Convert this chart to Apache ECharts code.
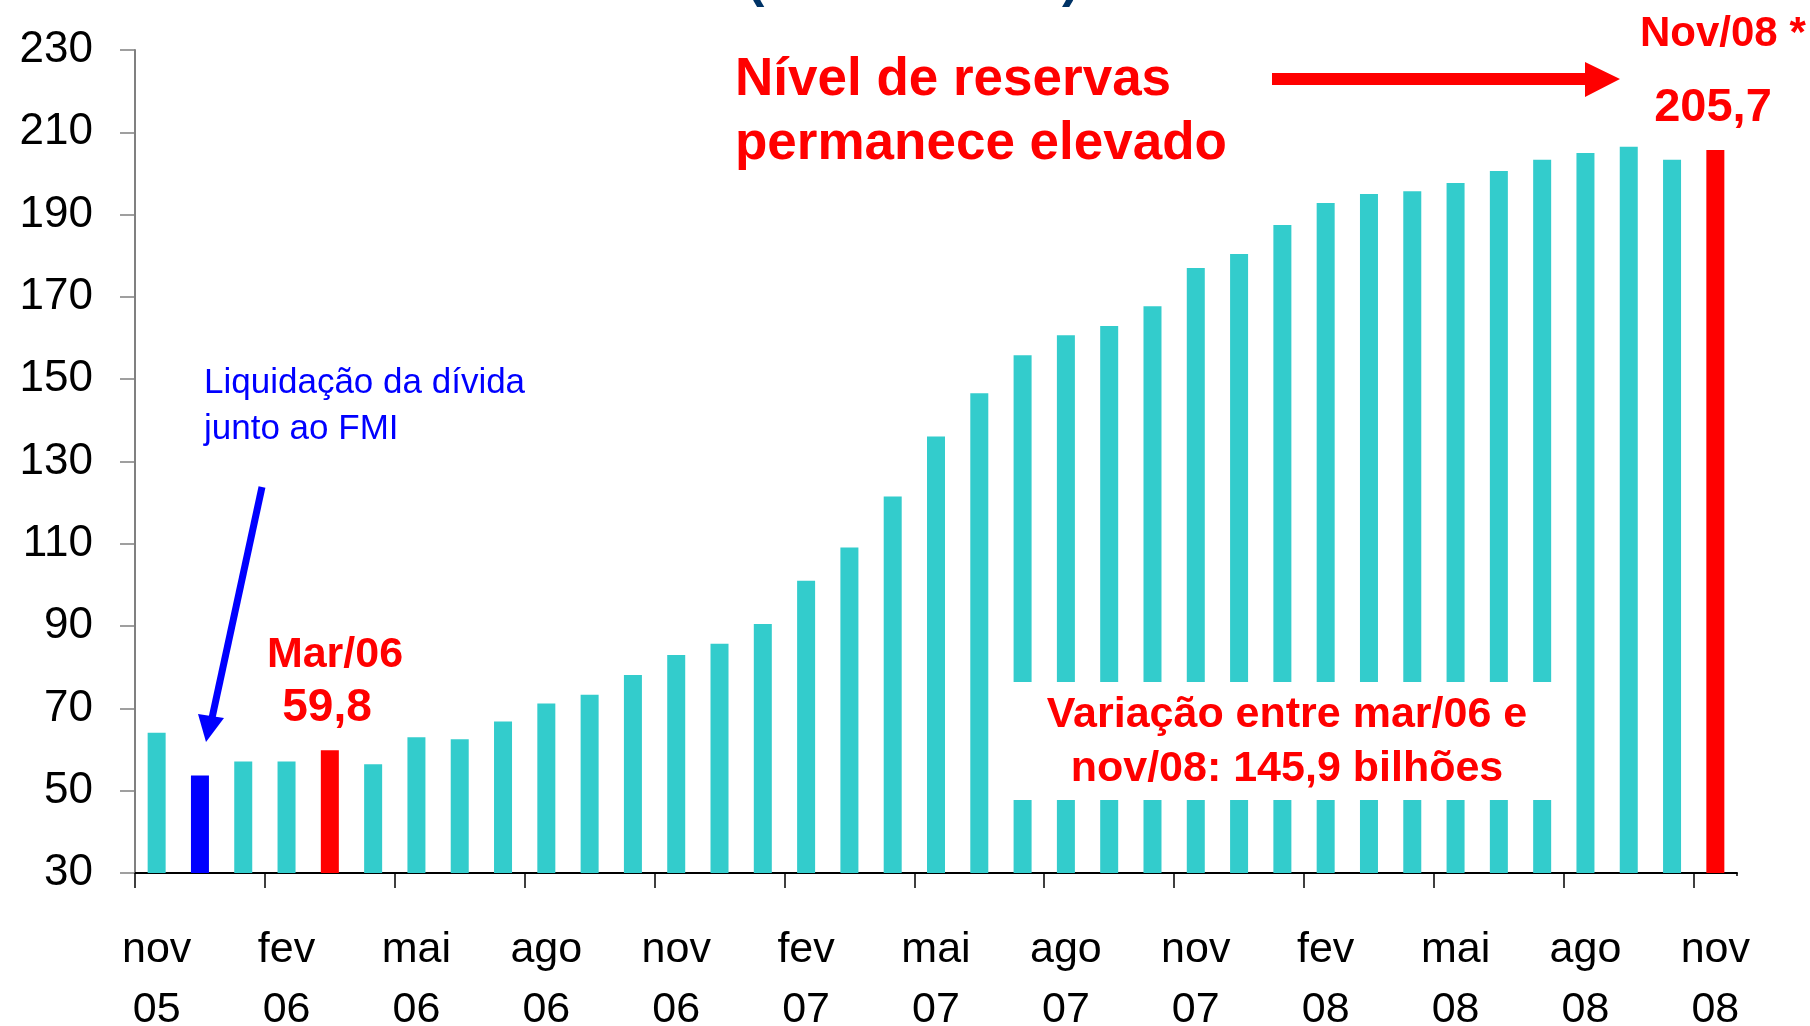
<!DOCTYPE html>
<html>
<head>
<meta charset="utf-8">
<script src="https://cdn.jsdelivr.net/npm/echarts@6/dist/echarts.min.js"></script>
<style>
html, body { margin: 0; padding: 0; background: #fff; }
#grafico { width: 1810px; height: 1026px; }
</style>
</head>
<body>
<div id="grafico"></div>
<script>
var meses = ['nov/05', 'dez/05', 'jan/06', 'fev/06', 'mar/06', 'abr/06', 'mai/06', 'jun/06', 'jul/06', 'ago/06', 'set/06', 'out/06',
    'nov/06', 'dez/06', 'jan/07', 'fev/07', 'mar/07', 'abr/07', 'mai/07', 'jun/07', 'jul/07', 'ago/07', 'set/07', 'out/07',
    'nov/07', 'dez/07', 'jan/08', 'fev/08', 'mar/08', 'abr/08', 'mai/08', 'jun/08', 'jul/08', 'ago/08', 'set/08', 'out/08', 'nov/08'];

// reservas internacionais, US$ bilhões
var reservas = [64.1, 53.7, 57.1, 57.1, 59.8, 56.4, 63.0, 62.5, 66.8, 71.2, 73.3, 78.1,
    83.0, 85.7, 90.5, 101.0, 109.1, 121.5, 136.1, 146.6, 155.8, 160.7, 162.9, 167.7,
    177.0, 180.4, 187.5, 192.8, 195.0, 195.7, 197.7, 200.6, 203.3, 205.0, 206.5, 203.3, 205.7];

var yMin = 30, yMax = 230, yPasso = 20;

// barras em destaque (indice -> cor)
var destaque = { 1: '#0000FF', 4: '#FF0000', 36: '#FF0000' };

var fonte = "'Liberation Sans', Arial, Helvetica, sans-serif";

var grafico = echarts.init(document.getElementById('grafico'));

function texto(x, y, txt, size, cor, bold, align, lh) {
    return {
        type: 'text', x: x, y: y, z: 100,
        style: {
            text: txt, fill: cor,
            fontSize: size, fontFamily: fonte, fontWeight: bold ? 'bold' : 'normal',
            align: align || 'left', textAlign: align || 'left',
            verticalAlign: 'middle', textVerticalAlign: 'middle',
            lineHeight: lh || size
        }
    };
}

option = {
    backgroundColor: '#fff',
    animation: false,
    grid: { left: 135, right: 73, top: 50, bottom: 153, containLabel: false, outerBoundsMode: 'none' },
    xAxis: {
        type: 'category',
        data: meses,
        boundaryGap: true,
        axisLine: { lineStyle: { color: '#000', width: 2 } },
        axisTick: { show: true, interval: 2, length: 15, lineStyle: { color: '#000', width: 1.5 } },
        axisLabel: {
            interval: 2, margin: 47,
            fontSize: 43, fontFamily: fonte, color: '#000', lineHeight: 60,
            formatter: function (v) { return v.replace('/', '\n'); }
        },
        splitLine: { show: false }
    },
    yAxis: {
        type: 'value',
        min: yMin, max: yMax, interval: yPasso,
        axisLine: { show: true, lineStyle: { color: '#808080', width: 2 } },
        axisTick: { show: true, length: 15, lineStyle: { color: '#808080', width: 1.5 } },
        axisLabel: { margin: 42, fontSize: 44, fontFamily: fonte, color: '#000' },
        splitLine: { show: false }
    },
    series: [{
        type: 'bar',
        barWidth: 18,
        data: reservas,
        itemStyle: {
            color: function (p) { return destaque[p.dataIndex] || '#33CCCC'; }
        }
    }],
    graphic: [
        // titulo cortado no topo
        { type: 'text', x: 747, y: 8, z: 100,
          style: { text: '(US$ bilhões)', fill: '#003366', fontSize: 52, fontWeight: 'bold', fontFamily: fonte,
                   align: 'left', textAlign: 'left', verticalAlign: 'bottom', textVerticalAlign: 'bottom' } },
        texto(735, 112, 'Nível de reservas\npermanece elevado', 53, '#FF0000', true, 'left', 64),
        // seta vermelha
        { type: 'polygon', z: 100,
          shape: { points: [[1272, 73], [1585, 73], [1585, 62], [1620, 79], [1585, 97], [1585, 85], [1272, 85]] },
          style: { fill: '#FF0000' } },
        texto(1640, 34, 'Nov/08 *', 42, '#FF0000', true, 'left'),
        texto(1713, 108, '205,7', 47, '#FF0000', true, 'center'),
        texto(335, 655, 'Mar/06', 43, '#FF0000', true, 'center'),
        texto(327, 708, '59,8', 46, '#FF0000', true, 'center'),
        texto(204, 406, 'Liquidação da dívida\njunto ao FMI', 35, '#0000FF', false, 'left', 46),
        // seta azul
        { type: 'line', z: 100,
          shape: { x1: 262, y1: 487, x2: 212, y2: 718 },
          style: { stroke: '#0000FF', lineWidth: 7 } },
        { type: 'polygon', z: 100,
          shape: { points: [[198, 714], [206, 742], [224, 718]] },
          style: { fill: '#0000FF' } },
        // caixa de variacao
        { type: 'rect', z: 99,
          shape: { x: 1013, y: 682, width: 540, height: 118 },
          style: { fill: '#FFFFFF' } },
        texto(1287, 742, 'Variação entre mar/06 e\nnov/08: 145,9 bilhões', 43, '#FF0000', true, 'center', 54),
        // o original nao tem marca no fim do eixo x
        { type: 'rect', z: 100,
          shape: { x: 1734, y: 876, width: 8, height: 16 },
          style: { fill: '#FFFFFF' } }
    ]
};

grafico.setOption(option);
</script>
</body>
</html>
